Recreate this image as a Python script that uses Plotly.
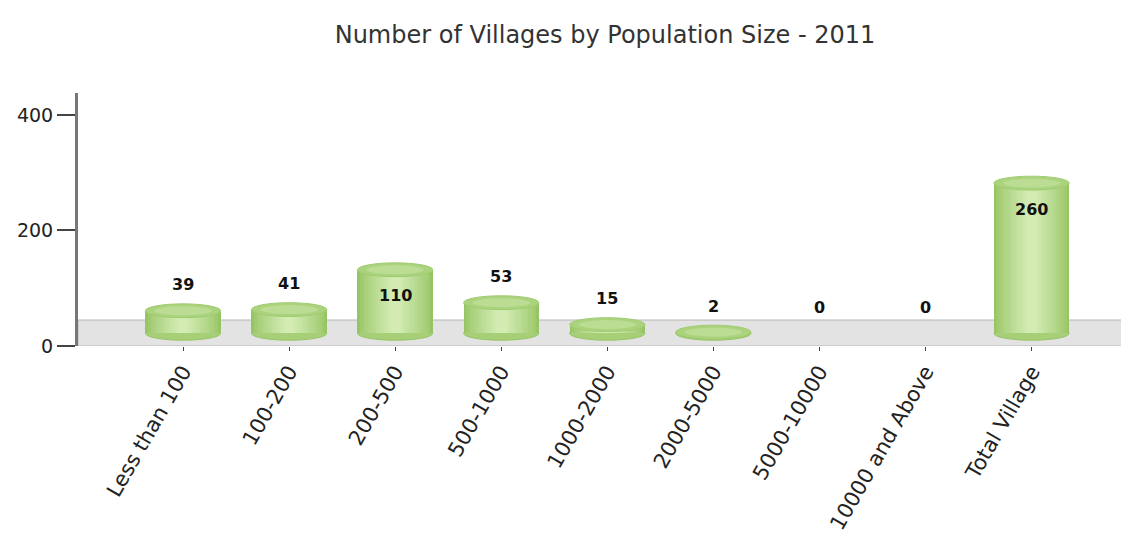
import plotly.graph_objects as go

categories = ["Less than 100", "100-200", "200-500", "500-1000", "1000-2000",
              "2000-5000", "5000-10000", "10000 and Above", "Total Village"]
villages = [39, 41, 110, 53, 15, 2, 0, 0, 260]
y_tick_vals = [0, 200, 400]

BASE = 22          # visual depth offset of the 3D floor
FLOOR = 45         # depth band height in y units
BAR_W = 0.71
ELL_H = 12         # half height of cylinder cap, in y units

idx = list(range(len(categories)))
fig = go.Figure()


def mix(c1, c2, t):
    a = [int(c1[k:k + 2], 16) for k in (1, 3, 5)]
    b = [int(c2[k:k + 2], 16) for k in (1, 3, 5)]
    return "#" + "".join(f"{round(x + (y - x) * t):02x}" for x, y in zip(a, b))


# horizontal gradient by overlaying narrower, lighter bars
n_layers = 14
for k in range(n_layers):
    t = k / (n_layers - 1)
    w = BAR_W * (1 - 0.9 * t)
    c = mix("#97c566", "#d4ecb4", t ** 0.8)
    fig.add_trace(go.Bar(x=idx, y=villages, base=[BASE] * len(idx), width=w,
                         marker=dict(color=c, line=dict(width=0)),
                         hoverinfo="skip", showlegend=False))

shapes = []
# floor band
shapes.append(dict(type="rect", xref="paper", yref="y", x0=0, x1=1, y0=0, y1=FLOOR,
                   fillcolor="#e3e3e3", line=dict(color="#b5b5b5", width=1), layer="below"))
for i, v in zip(idx, villages):
    if v <= 0:
        continue
    top = BASE + v
    # bottom cap
    shapes.append(dict(type="circle", xref="x", yref="y",
                       x0=i - BAR_W / 2, x1=i + BAR_W / 2, y0=BASE - ELL_H, y1=BASE + ELL_H,
                       fillcolor="#a6cf77", line=dict(color="#97c566", width=1), layer="below"))
    # top cap
    shapes.append(dict(type="circle", xref="x", yref="y",
                       x0=i - BAR_W / 2, x1=i + BAR_W / 2, y0=top - ELL_H, y1=top + ELL_H,
                       fillcolor="#abd37e", line=dict(color="#9fcc70", width=1), layer="above"))
    shapes.append(dict(type="circle", xref="x", yref="y",
                       x0=i - BAR_W * 0.38, x1=i + BAR_W * 0.38, y0=top - ELL_H * 0.65, y1=top + ELL_H * 0.65,
                       fillcolor="#badc93", line=dict(width=0), layer="above"))

annotations = []
for i, v in zip(idx, villages):
    top = BASE + v
    inside = v > 100
    annotations.append(dict(x=i, y=top, xref="x", yref="y", text=str(v), showarrow=False,
                            yshift=-26 if inside else 26,
                            font=dict(family="DejaVu Sans", size=16, color="#111111", weight="bold"),
                            xanchor="center", yanchor="middle"))

W, H, OFF = 1121, 530, 8   # page body has an 8px margin
fig.update_layout(
    width=W, height=H,
    paper_bgcolor="white", plot_bgcolor="white",
    margin=dict(l=78 - OFF, r=2, t=93 - OFF, b=192),
    barmode="overlay", bargap=0,
    title=dict(text="Number of Villages by Population Size - 2011",
               x=(605 - OFF) / W, xref="container", xanchor="center",
               y=1 - (35 - OFF) / H, yref="container", yanchor="middle",
               font=dict(family="DejaVu Sans", size=24, color="#333333")),
    shapes=shapes, annotations=annotations,
    font=dict(family="DejaVu Sans", size=18, color="#222222"),
)
fig.update_xaxes(range=[-0.99, 8.9], tickmode="array", tickvals=idx, ticktext=categories,
                 tickangle=-60, ticks="outside", ticklen=4, tickcolor="#444444",
                 showgrid=False, zeroline=False, showline=False,
                 tickfont=dict(family="DejaVu Sans", size=21, color="#222222"))
fig.update_yaxes(range=[0, 438], tickmode="array", tickvals=y_tick_vals,
                 ticks="outside", ticklen=18, tickwidth=1.5, tickcolor="#444444",
                 showgrid=False, zeroline=False, showline=True, linecolor="#777777", linewidth=3,
                 tickfont=dict(family="DejaVu Sans", size=19, color="#222222"))

fig.write_html("out.html")
